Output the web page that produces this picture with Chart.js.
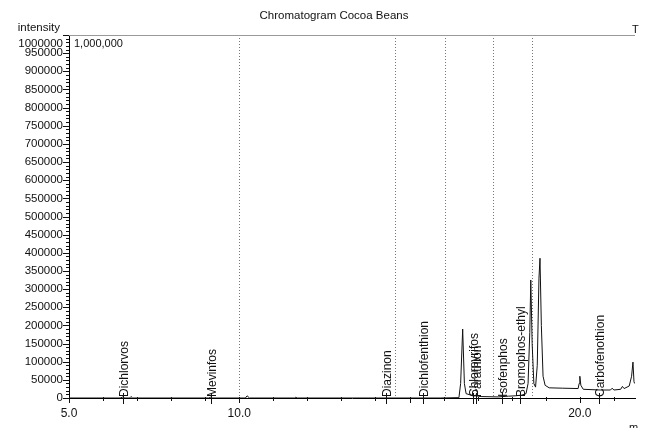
<!DOCTYPE html>
<html lang="en">
<head>
<meta charset="UTF-8">
<title>Chromatogram Cocoa Beans</title>
<script src="https://cdn.jsdelivr.net/npm/chart.js@4.4.1/dist/chart.umd.min.js"></script>
<style>
  html, body { margin: 0; padding: 0; background: #fff; }
  #wrap { width: 646px; height: 428px; }
</style>
</head>
<body>
<div id="wrap"><canvas id="chrom"></canvas></div>
<script>
// trace (minutes / intensity)
const retentionTimes = [5.0, 6.5, 6.58, 6.64, 6.78, 6.82, 6.87, 9.1, 9.16, 9.22, 10.18, 10.23, 10.3,
  11.62, 11.66, 11.7, 15.9, 16.45, 16.5, 16.56, 16.61, 16.66, 16.8, 17.1, 17.6, 17.9, 18.1, 18.3,
  18.42, 18.48, 18.53, 18.56, 18.6, 18.65, 18.7, 18.75, 18.8, 18.83, 18.87, 18.92, 18.98, 19.1,
  19.5, 19.95, 19.98, 20.0, 20.03, 20.1, 20.6, 20.9, 20.95, 21.0, 21.2, 21.25, 21.3, 21.45, 21.52,
  21.56, 21.59, 21.61];
const intensities = [0, 0, 2500, 0, 0, 4000, 0, 0, 2000, 0, 0, 6000, 0,
  0, 2000, 0, 0, 1000, 40000, 190000, 40000, 12000, 8000, 4000, 3000, 5000, 6000, 8000,
  12000, 40000, 180000, 325000, 150000, 40000, 30000, 90000, 330000, 385000, 200000, 60000, 35000, 28000,
  27000, 26000, 40000, 60000, 35000, 24000, 22000, 22000, 27000, 22000, 24000, 32000, 26000, 33000, 60000,
  99000, 45000, 40000];

const compoundNames = ['Dichlorvos', 'Mevinfos', 'Diazinon', 'Dichlofenthion', 'Chlorpyrifos',
  'Parathion', 'Isofenphos', 'Bromophos-ethyl', 'Carbofenothion'];
const compoundTimes = [6.6, 9.18, 14.32, 15.4, 16.85, 16.94, 17.72, 18.25, 20.55];

const markerTimes = [10.0, 14.57, 16.04, 17.45, 18.59];
const xLabeled = [5, 10, 20];
const yTop = 1000000;

const FONT = "'Liberation Sans', Arial, sans-serif";

const points = retentionTimes.map((t, i) => ({ x: t, y: intensities[i] }));

const overlay = {
  id: 'overlay',
  beforeDatasetsDraw(chart) {
    const { ctx, chartArea, scales } = chart;
    ctx.save();
    // dotted markers
    ctx.strokeStyle = '#777';
    ctx.lineWidth = 1;
    ctx.setLineDash([1, 2]);
    markerTimes.forEach(t => {
      const x = Math.round(scales.x.getPixelForValue(t)) + 0.5;
      ctx.beginPath();
      ctx.moveTo(x, chartArea.top);
      ctx.lineTo(x, chartArea.bottom);
      ctx.stroke();
    });
    ctx.setLineDash([]);
    // top frame line
    ctx.strokeStyle = '#999';
    ctx.beginPath();
    ctx.moveTo(chartArea.left, chartArea.top + 0.5);
    ctx.lineTo(chartArea.right, chartArea.top + 0.5);
    ctx.stroke();
    ctx.restore();
  },
  afterDraw(chart) {
    const { ctx, chartArea, scales } = chart;
    const x = scales.x, y = scales.y;
    ctx.save();
    ctx.strokeStyle = '#111';
    ctx.lineWidth = 1;

    // y ticks, major every 50000
    for (let v = 0; v <= yTop; v += 10000) {
      const py = Math.round(y.getPixelForValue(v)) + 0.5;
      const len = v % 50000 === 0 ? 6 : 3;
      ctx.beginPath();
      ctx.moveTo(chartArea.left - len, py);
      ctx.lineTo(chartArea.left, py);
      ctx.stroke();
    }
    // x ticks every minute
    for (let t = 5; t <= 21; t++) {
      const px = Math.round(x.getPixelForValue(t)) + 0.5;
      const len = t % 5 === 0 ? 5 : 3;
      ctx.beginPath();
      ctx.moveTo(px, chartArea.bottom - 1);
      ctx.lineTo(px, chartArea.bottom + len);
      ctx.stroke();
    }

    // compound names
    ctx.fillStyle = '#111';
    ctx.font = '12px ' + FONT;
    compoundNames.forEach((name, i) => {
      const px = Math.round(x.getPixelForValue(compoundTimes[i])) + 0.5;
      ctx.beginPath();
      ctx.moveTo(px, chartArea.bottom - 5);
      ctx.lineTo(px, chartArea.bottom + 6);
      ctx.stroke();
      ctx.save();
      ctx.translate(px + 1, chartArea.bottom - 1);
      ctx.rotate(-Math.PI / 2);
      ctx.textAlign = 'left';
      ctx.textBaseline = 'middle';
      ctx.fillText(name, 0, 0);
      ctx.restore();
    });

    // top y label sits just under the frame, as in the print
    ctx.font = '11.5px ' + FONT;
    ctx.textAlign = 'right';
    ctx.textBaseline = 'middle';
    ctx.fillText(String(yTop), chartArea.left - 6, chartArea.top + 9);

    // title and loose text
    ctx.textAlign = 'center';
    ctx.textBaseline = 'alphabetic';
    ctx.fillText('Chromatogram Cocoa Beans', 334, 19);
    ctx.textAlign = 'right';
    ctx.fillText('intensity', 60, 31);
    ctx.textAlign = 'left';
    ctx.font = '11px ' + FONT;
    ctx.fillText('1,000,000', 74, 47);
    ctx.fillText('T', 632, 33);
    ctx.fillText('m', 629, 431);
    ctx.restore();
  }
};

new Chart(document.getElementById('chrom'), {
  type: 'line',
  data: {
    datasets: [{
      data: points,
      borderColor: '#111',
      borderWidth: 1,
      pointRadius: 0,
      tension: 0,
      fill: false
    }]
  },
  options: {
    responsive: true,
    maintainAspectRatio: false,
    animation: false,
    layout: { padding: { top: 35, right: 11, left: 0, bottom: 0 } },
    plugins: {
      legend: { display: false },
      tooltip: { enabled: false },
      title: { display: false }
    },
    scales: {
      x: {
        type: 'linear',
        min: 5,
        max: 21.62,
        afterFit(s) { s.height = 30; },
        border: { color: '#000', width: 1 },
        grid: { drawOnChartArea: false, drawTicks: false },
        ticks: {
          stepSize: 1,
          autoSkip: false,
          maxRotation: 0,
          includeBounds: false,
          padding: 8,
          color: '#111',
          font: { family: FONT, size: 12 },
          callback: v => xLabeled.includes(v) ? v.toFixed(1) : ''
        }
      },
      y: {
        min: 0,
        max: yTop,
        afterFit(s) { s.width = 69; },
        border: { color: '#000', width: 1 },
        grid: { drawOnChartArea: false, drawTicks: false },
        ticks: {
          stepSize: 10000,
          maxTicksLimit: 200,
          autoSkip: false,
          padding: 6,
          color: '#111',
          font: { family: FONT, size: 11.5 },
          callback: v => (v % 50000 === 0 && v !== yTop) ? String(v) : ''
        }
      }
    }
  },
  plugins: [overlay]
});
</script>
</body>
</html>
